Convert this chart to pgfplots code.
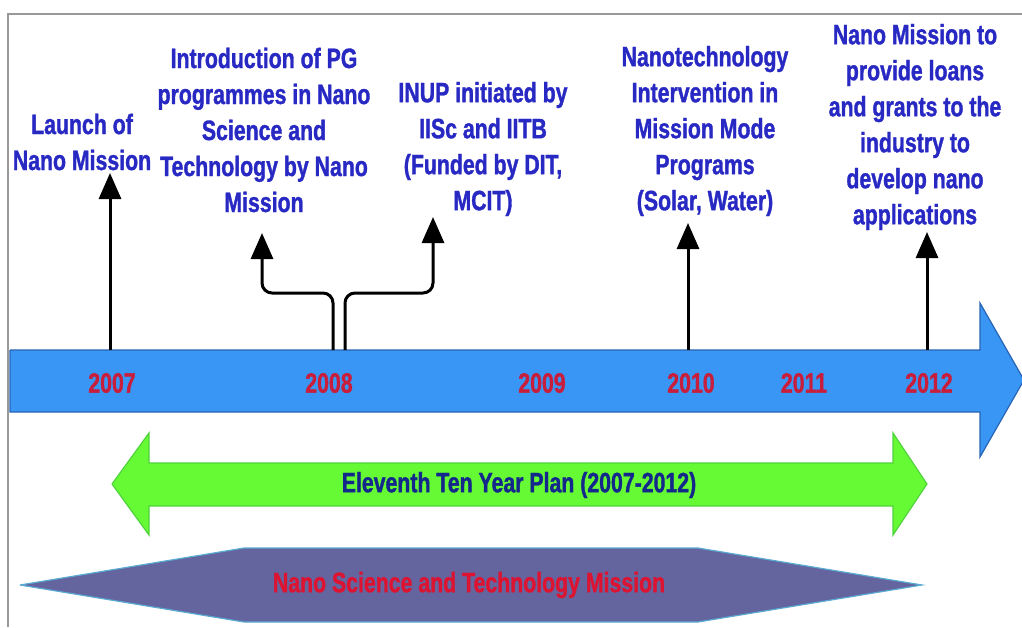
\documentclass[border=0pt]{standalone}
\usepackage{fontspec}
\setmainfont{Liberation Sans}[FakeStretch=0.76, BoldFeatures={FakeBold=1.2}]
\usepackage{pgfplots}
\pgfplotsset{compat=1.18}
\usetikzlibrary{arrows.meta}
\definecolor{txtblue}{RGB}{40,40,195}
\definecolor{yearred}{RGB}{200,30,60}
\definecolor{bandblue}{RGB}{58,150,245}
\definecolor{bandedge}{RGB}{40,100,180}
\definecolor{plangreen}{RGB}{102,250,52}
\definecolor{planedge}{RGB}{80,210,60}
\definecolor{plantxt}{RGB}{20,40,140}
\definecolor{hexfill}{RGB}{100,100,158}
\definecolor{hexedge}{RGB}{90,170,210}
\definecolor{misred}{RGB}{220,20,50}
\tikzset{
  tl/.style={inner sep=0pt, font=\fontsize{14}{18}\selectfont\bfseries, text=txtblue, align=center},
  yr/.style={inner sep=0pt, font=\fontsize{14}{16}\selectfont\bfseries, text=yearred},
  ar/.style={black, line width=1.5pt, -{Triangle[width=11pt,length=13pt]}},
}
\begin{document}
\begin{tikzpicture}
\begin{axis}[
  scale only axis, width=511pt, height=313.5pt,
  xmin=0, xmax=1022, ymin=0, ymax=627, y dir=reverse,
  hide axis, clip=true,
]
% invisible extent of the picture
\addplot[draw=none] coordinates {(0,0) (1022,627)};
% frame
\addplot[gray!80, line width=1pt] coordinates {(8,627) (8,14) (1022,14)};
% blue timeline arrow
\addplot[fill=bandblue, draw=bandedge, line width=0.6pt] coordinates {
  (10,350) (980,350) (980,303) (1024,380) (980,457) (980,412) (10,412) (10,350)};
% green double arrow
\addplot[fill=plangreen, draw=planedge, line width=0.6pt] coordinates {
  (112,484) (149,433) (149,463) (893,463) (893,433) (927,484)
  (893,535) (893,506) (149,506) (149,535) (112,484)};
% hexagon
\addplot[fill=hexfill, draw=hexedge, line width=0.6pt] coordinates {
  (20,585) (244,548) (698,548) (922,585) (698,622) (244,622) (20,585)};
% black arrows
\addplot[ar] coordinates {(110,350) (110,173)};
\addplot[ar, rounded corners=5pt] coordinates {(333,350) (333,293) (262,293) (262,233)};
\addplot[ar, rounded corners=5pt] coordinates {(345,350) (345,293) (433,293) (433,217)};
\addplot[ar] coordinates {(688,350) (688,223)};
\addplot[ar] coordinates {(927,350) (927,232)};
% year labels
\node[yr] at (axis cs:112,383) {2007};
\node[yr] at (axis cs:329,383) {2008};
\node[yr] at (axis cs:542,383) {2009};
\node[yr] at (axis cs:691,383) {2010};
\node[yr] at (axis cs:804,383) {2011};
\node[yr] at (axis cs:929,383) {2012};
% event texts
\node[tl] at (axis cs:82,142) {Launch of\\Nano Mission};
\node[tl] at (axis cs:264,130) {Introduction of PG\\programmes in Nano\\Science and\\Technology by Nano\\Mission};
\node[tl] at (axis cs:483,149) {INUP initiated by\\IISc and IITB\\(Funded by DIT,\\MCIT)};
\node[tl] at (axis cs:705,131) {Nanotechnology\\Intervention in\\Mission Mode\\Programs\\(Solar, Water)};
\node[tl] at (axis cs:915,127) {Nano Mission to\\provide loans\\and grants to the\\industry to\\develop nano\\applications};
% band texts
\node[inner sep=0pt, font=\fontsize{14}{16}\selectfont\bfseries, text=plantxt] at (axis cs:519,485) {Eleventh Ten Year Plan (2007-2012)};
\node[inner sep=0pt, font=\fontsize{14}{16}\selectfont\bfseries, text=misred] at (axis cs:469,585) {Nano Science and Technology Mission};
\end{axis}
\end{tikzpicture}
\end{document}
